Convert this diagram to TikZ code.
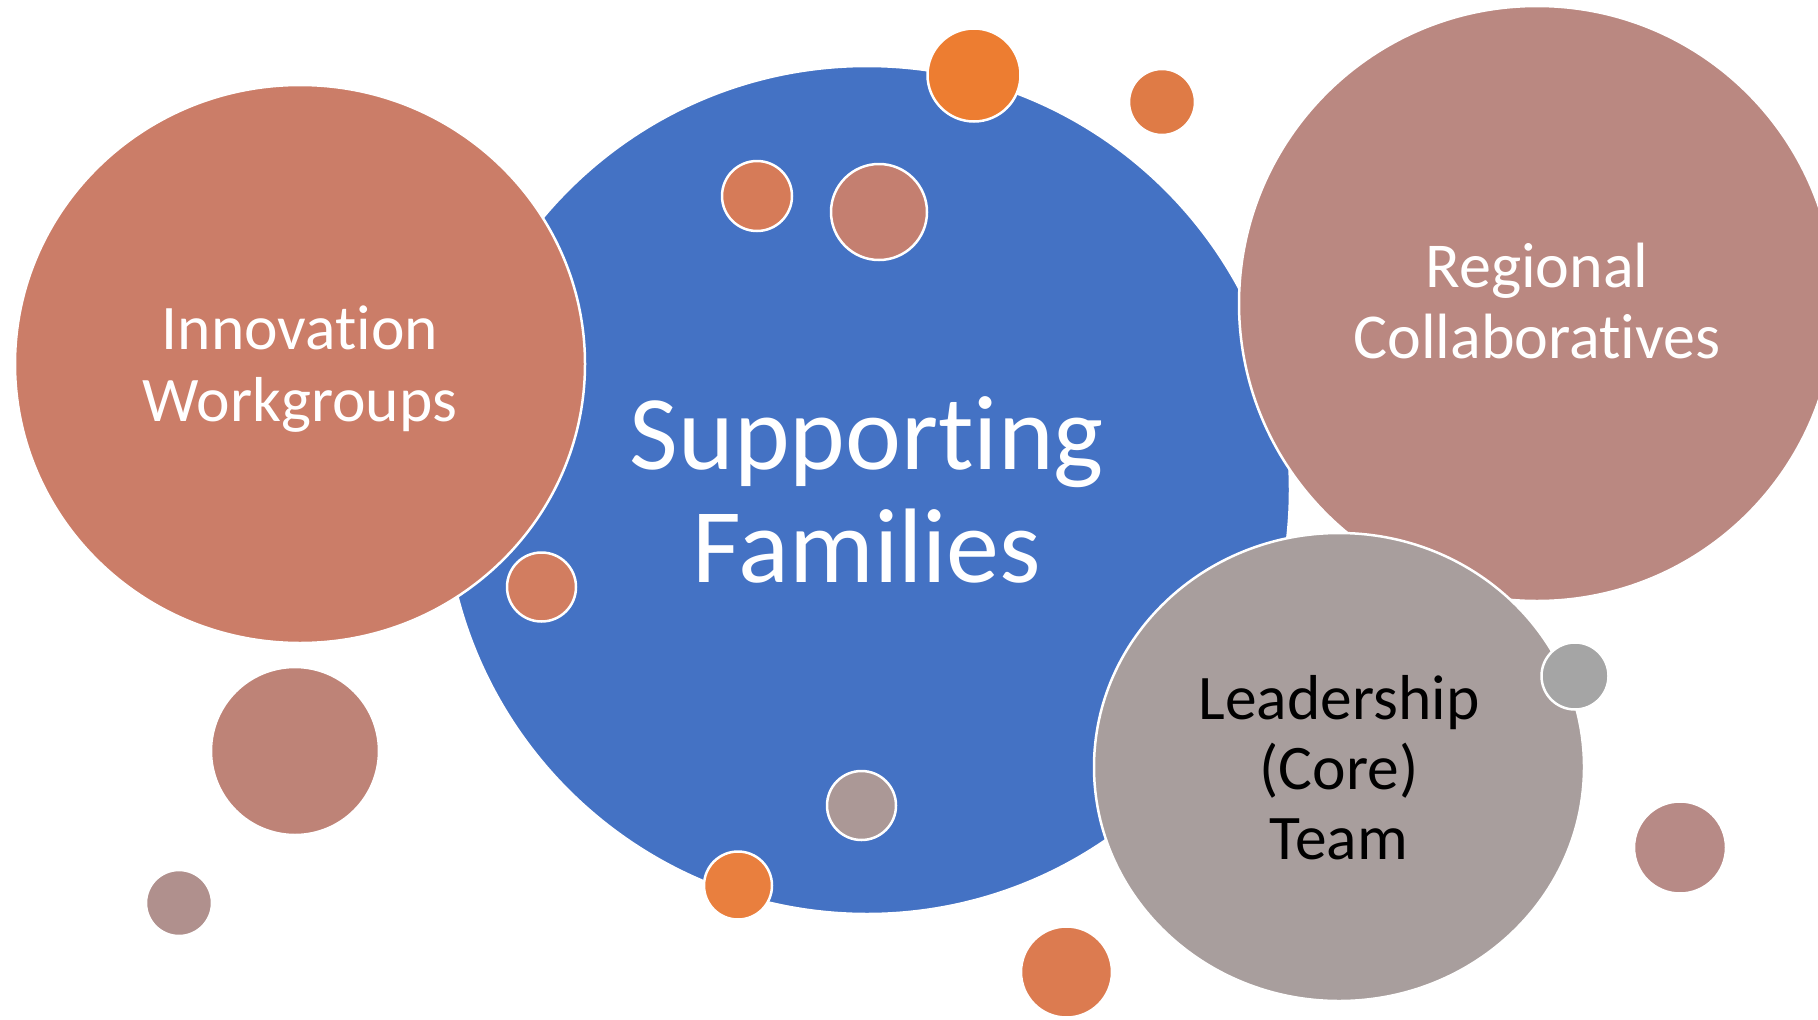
\documentclass[tikz,border=0pt]{standalone}
\usepackage{fontspec}
\setmainfont{Carlito}[Ligatures=NoCommon]
\usetikzlibrary{shapes.geometric}
\definecolor{cBlue}{HTML}{4472C4}
\definecolor{cInno}{HTML}{CB7D68}
\definecolor{cRegi}{HTML}{BA8881}
\definecolor{cLead}{HTML}{A89E9D}
\definecolor{cOrA}{HTML}{ED7D31}
\definecolor{cOrB}{HTML}{DF7B46}
\definecolor{cOrC}{HTML}{D67B58}
\definecolor{cSalA}{HTML}{C47F70}
\definecolor{cOrD}{HTML}{D27D60}
\definecolor{cSalB}{HTML}{BE8377}
\definecolor{cMauA}{HTML}{B0908D}
\definecolor{cMauB}{HTML}{AB9896}
\definecolor{cOrE}{HTML}{E97F3E}
\definecolor{cOrF}{HTML}{DC7B50}
\definecolor{cGray}{HTML}{A5A5A5}
\definecolor{cMauC}{HTML}{B78A86}
\begin{document}
\begin{tikzpicture}[x=1pt,y=-1pt,
  bub/.style={ellipse, draw=white, line width=2.5pt, inner sep=0pt, align=center, text depth=0pt},
  dot/.style={circle, draw=white, line width=2.5pt, inner sep=0pt, minimum size=#1}
]
\useasboundingbox (0,0) rectangle (1818,1020);
\clip (0,0) rectangle (1818,1020);
% big bubbles
\node[bub, fill=cBlue, minimum width=846pt, minimum height=848pt, text=white,
      font=\fontsize{106}{113}\selectfont] (sf) at (867,490) {Supporting\\Families};
\node[bub, fill=cInno, minimum width=570pt, minimum height=558pt, text=white,
      font=\fontsize{63.5}{72}\selectfont] (iw) at (300,364) {Innovation\\Workgroups};
\node[bub, fill=cRegi, minimum width=596pt, minimum height=595pt, text=white, text depth=6pt,
      font=\fontsize{64}{71}\selectfont] (rc) at (1537,303.5) {Regional\\Collaboratives};
\node[bub, fill=cLead, minimum width=490pt, minimum height=468pt, text=black,
      font=\fontsize{63.5}{70}\selectfont] (lt) at (1339,767) {Leadership\\(Core)\\Team};
% small bubbles
\node[dot=93pt, fill=cOrA] (d1) at (974,75) {};
\node[dot=66pt, fill=cOrB] (d2) at (1162,102) {};
\node[dot=70pt, fill=cOrC] (d3) at (757,196) {};
\node[dot=96pt, fill=cSalA] (d4) at (879,212) {};
\node[dot=69pt, fill=cOrD] (d5) at (541.5,587) {};
\node[dot=168pt, fill=cSalB] (d6) at (295,751) {};
\node[dot=66pt, fill=cMauA] (d7) at (179,903) {};
\node[dot=69pt, fill=cMauB] (d8) at (861.5,805.5) {};
\node[dot=68pt, fill=cOrE] (d9) at (738,885.5) {};
\node[dot=91pt, fill=cOrF] (d10) at (1066.5,972) {};
\node[dot=67pt, fill=cGray] (d11) at (1575,676) {};
\node[dot=92pt, fill=cMauC] (d12) at (1680,847.5) {};
\end{tikzpicture}
\end{document}
